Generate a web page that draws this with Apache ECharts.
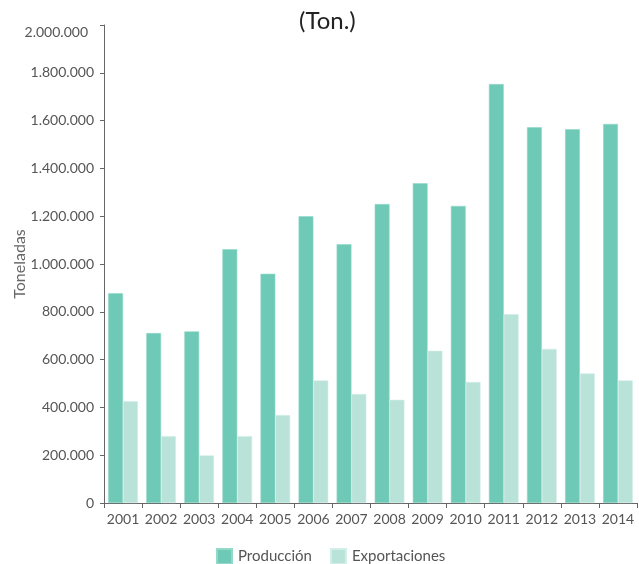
<!DOCTYPE html>
<html>
<head>
<meta charset="utf-8">
<script src="https://cdn.jsdelivr.net/npm/echarts@6/dist/echarts.min.js"></script>
<style>
  html, body { margin: 0; padding: 0; background: #fff; }
  #chart { width: 639px; height: 564px; }
</style>
</head>
<body>
<div id="chart"></div>
<script>
// Annual production and exports, in tonnes
var years = ['2001', '2002', '2003', '2004', '2005', '2006', '2007',
             '2008', '2009', '2010', '2011', '2012', '2013', '2014'];
var produccion = [878000, 711000, 718000, 1062000, 959000, 1200000, 1083000,
                  1251000, 1338000, 1243000, 1753000, 1572000, 1564000, 1586000];
var exportaciones = [426000, 280000, 199000, 280000, 368000, 513000, 456000,
                     432000, 637000, 506000, 790000, 645000, 542000, 513000];

var FONT = 'Lato, "Open Sans", sans-serif';
var Y_MAX = 2000000;

// Thousands separated with dots (es-ES style)
function fmt(v) {
  return String(v).replace(/\B(?=(\d{3})+(?!\d))/g, '.');
}

var chart = echarts.init(document.getElementById('chart'), null, { renderer: 'canvas' });
chart.setOption({
  animation: false,
  textStyle: { fontFamily: FONT },
  title: {
    text: '(Ton.)',
    left: 294,
    top: 4,
    itemGap: 0,
    textStyle: { fontFamily: FONT, fontSize: 24, fontWeight: 'normal', color: '#222' }
  },
  legend: {
    bottom: -1,
    left: 216,
    padding: 0,
    itemWidth: 15,
    itemHeight: 15,
    itemGap: 18,
    icon: 'rect',
    textStyle: { fontFamily: FONT, fontSize: 15, color: '#555', padding: [0, 0, 0, 1] },
    data: ['Producción', 'Exportaciones']
  },
  grid: {
    left: 104, right: 2, top: 25, bottom: 61,
    containLabel: false,
    outerBoundsMode: 'none'
  },
  xAxis: {
    type: 'category',
    data: years,
    boundaryGap: true,
    axisLine: { lineStyle: { color: '#666', width: 1 } },
    axisTick: { show: true, length: 5, interval: 0, lineStyle: { color: '#666' } },
    axisLabel: { fontFamily: FONT, fontSize: 14, color: '#555', margin: 9, interval: 0 }
  },
  yAxis: {
    type: 'value',
    min: 0,
    max: Y_MAX,
    interval: 200000,
    name: 'Toneladas',
    nameLocation: 'middle',
    nameGap: 76,
    nameMoveOverlap: false,
    nameRotate: 90,
    nameTextStyle: { fontFamily: FONT, fontSize: 16, color: '#666' },
    axisLine: { show: true, lineStyle: { color: '#666', width: 1 } },
    axisTick: { show: true, length: 4, lineStyle: { color: '#666' } },
    splitLine: { show: false },
    axisLabel: {
      fontFamily: FONT, fontSize: 14, color: '#555', margin: 10,
      formatter: function (v) {
        // the top label sits a little lower and further left
        return v === Y_MAX ? '{top|' + fmt(v) + '}' : fmt(v);
      },
      rich: {
        top: { fontFamily: FONT, fontSize: 14, color: '#555', padding: [14, 6, 0, 0] }
      }
    }
  },
  series: [
    {
      name: 'Producción',
      type: 'bar',
      data: produccion,
      barGap: '0%',
      barCategoryGap: '22%',
      itemStyle: { color: '#6ec9b6', borderColor: '#94d8c9', borderWidth: 0.6 }
    },
    {
      name: 'Exportaciones',
      type: 'bar',
      data: exportaciones,
      barGap: '0%',
      barCategoryGap: '22%',
      itemStyle: { color: '#b9e2d9', borderColor: '#d3eee8', borderWidth: 0.6 }
    }
  ]
});
</script>
</body>
</html>
